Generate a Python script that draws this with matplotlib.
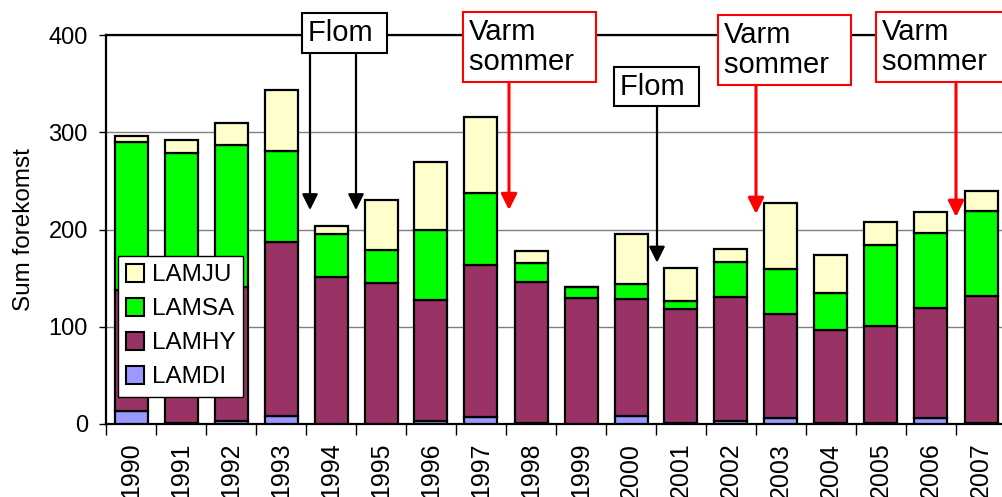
import numpy as np
import matplotlib
matplotlib.use("Agg")
import matplotlib.pyplot as plt
from matplotlib.patches import Patch

plt.rcParams['font.family'] = ['Liberation Sans', 'DejaVu Sans']

years = [str(y) for y in range(1990, 2008)]
lamdi = [13, 1, 3, 8, 0, 0, 3, 7, 1, 0, 8, 1, 3, 6, 1, 1, 6, 1]
lamhy = [125, 138, 138, 179, 151, 145, 124, 157, 145, 130, 121, 117, 128, 107, 96, 100, 113, 131]
lamsa = [152, 140, 146, 94, 44, 34, 73, 74, 20, 11, 15, 8, 36, 46, 38, 83, 77, 87]
lamju = [6, 13, 22, 62, 9, 51, 69, 78, 12, 0, 51, 34, 13, 68, 39, 24, 22, 21]

series_names = ["LAMDI", "LAMHY", "LAMSA", "LAMJU"]
series_colors = ["#9999FF", "#993366", "#00FF00", "#FFFFCC"]

# annotation boxes: text, text left (category units), text top (value), edge colour
note_texts = ["Flom ", "Varm\nsommer  ", "Flom ", "Varm\nsommer  ", "Varm\nsommer  "]
note_x = [3.54, 6.76, 9.78, 11.86, 15.02]
note_top = [416.4, 417.5, 361.4, 414.4, 417.5]
note_edge = ["black", "red", "black", "red", "red"]
# arrows: which note, arrow x, tip value
arrow_note = [0, 0, 1, 2, 3, 4]
arrow_x = [3.58, 4.5, 7.56, 10.52, 12.5, 16.5]
arrow_tip = [220, 220, 220, 166, 216, 213]


def main():
    fig = plt.figure(figsize=(10.02, 4.97), dpi=100)
    ax = fig.add_axes([106 / 1002, 1 - 424 / 497, 900 / 1002, 389 / 497])

    x = np.arange(len(years))
    bottom = np.zeros(len(years))
    for name, vals, col in zip(series_names, [lamdi, lamhy, lamsa, lamju], series_colors):
        ax.bar(x, vals, width=0.66, bottom=bottom, color=col, edgecolor="black",
               linewidth=1.6, zorder=3)
        bottom += np.array(vals)

    ax.set_xlim(-0.5, len(years) - 0.5)
    ax.set_ylim(0, 400)
    ax.set_yticks([0, 100, 200, 300, 400])
    ax.yaxis.grid(True, color="#808080", linewidth=1.0, zorder=0)
    ax.set_axisbelow(True)

    # ticks between categories, labels under bar centres
    ax.set_xticks(np.arange(len(years) + 1) - 0.5)
    ax.set_xticklabels([])
    ax.set_xticks(x, minor=True)
    ax.set_xticklabels(years, minor=True, rotation=90, fontsize=18)
    ax.tick_params(axis="x", which="major", length=8, width=1, direction="out")
    ax.tick_params(axis="x", which="minor", length=0, pad=13.5)
    ax.tick_params(axis="y", length=5, width=1, direction="out", pad=8, labelsize=17)

    for s in ["left", "top", "bottom"]:
        ax.spines[s].set_linewidth(1.6)
    ax.spines["right"].set_visible(False)

    ax.set_ylabel("Sum forekomst", fontsize=17.5, labelpad=10)

    handles = [Patch(facecolor=c, edgecolor="black", linewidth=1.5)
               for c in series_colors[::-1]]
    leg = ax.legend(handles, series_names[::-1], loc="upper left",
                    bbox_to_anchor=(0.0133, 0.432), borderaxespad=0, fontsize=17.5,
                    fancybox=False, framealpha=1, edgecolor="black",
                    handlelength=0.75, handleheight=0.75, handletextpad=0.3,
                    labelspacing=0.48, borderpad=0.33)
    leg.get_frame().set_linewidth(1.0)
    leg.set_zorder(6)

    for i in range(len(arrow_x)):
        col = note_edge[arrow_note[i]]
        lw = 2.2 if col == "red" else 1.6
        ax.annotate("", xy=(arrow_x[i], arrow_tip[i]),
                    xytext=(arrow_x[i], note_top[arrow_note[i]] - 10),
                    arrowprops=dict(arrowstyle="-|>", color=col, lw=lw,
                                    mutation_scale=24, shrinkA=0, shrinkB=0),
                    annotation_clip=False, zorder=4)

    for t, xx, yy, ec in zip(note_texts, note_x, note_top, note_edge):
        ax.text(xx, yy, t, ha="left", va="top", fontsize=21, linespacing=1.1,
                zorder=7, clip_on=False,
                bbox=dict(boxstyle="square,pad=0.2", facecolor="white",
                          edgecolor=ec, linewidth=1.5))

    fig.savefig("out.png", dpi=100)


if __name__ == "__main__":
    main()
